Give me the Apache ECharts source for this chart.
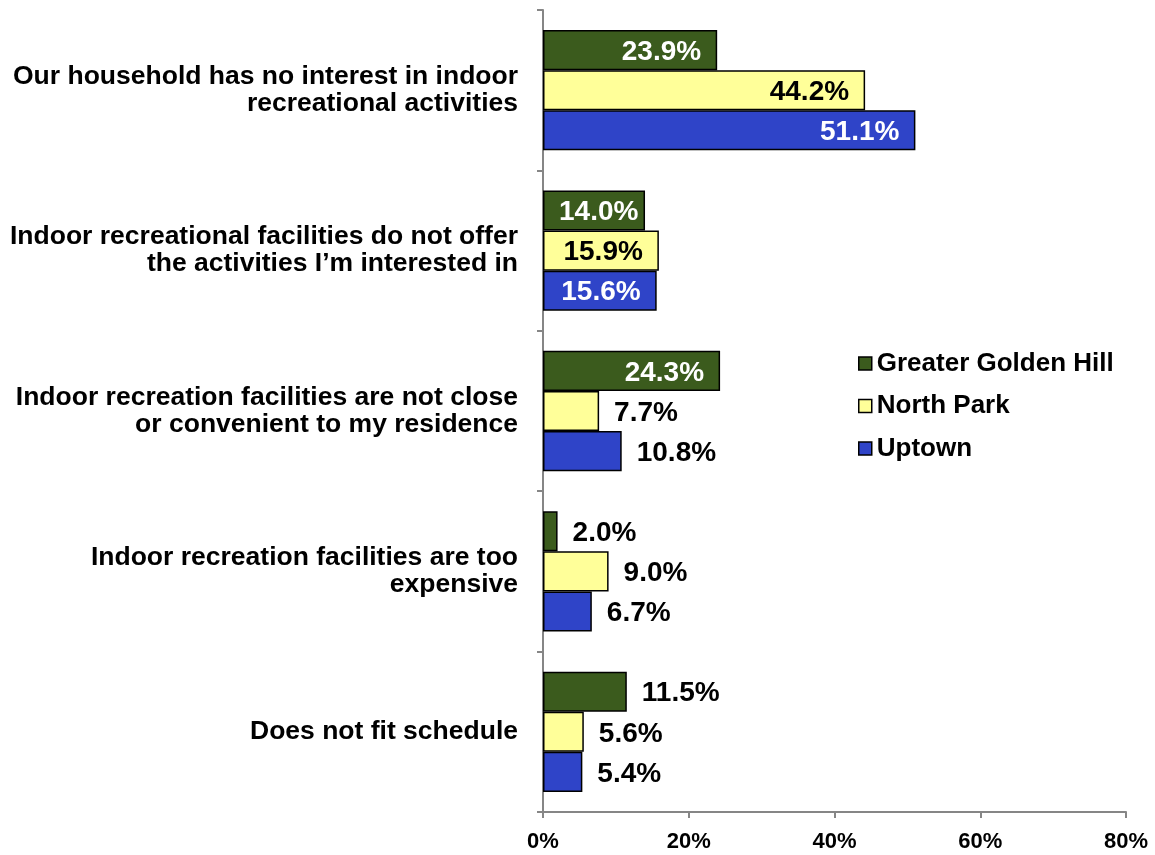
<!DOCTYPE html>
<html>
<head>
<meta charset="utf-8">
<script src="https://cdn.jsdelivr.net/npm/echarts@6/dist/echarts.min.js"></script>
<style>html,body{margin:0;padding:0;background:#fff}#c{width:1155px;height:855px}</style>
</head>
<body>
<div id="c"></div>
<script>
var categories = [
  "Our household has no interest in indoor\nrecreational activities",
  "Indoor recreational facilities do not offer\nthe activities I\u2019m interested in",
  "Indoor recreation facilities are not close\nor convenient to my residence",
  "Indoor recreation facilities are too\nexpensive",
  "Does not fit schedule"
];
var seriesNames = ["Greater Golden Hill", "North Park", "Uptown"];
var goldenHill = [23.9, 14.0, 24.3, 2.0, 11.5];
var northPark = [44.2, 15.9, 7.7, 9.0, 5.6];
var uptown = [51.1, 15.6, 10.8, 6.7, 5.4];
var xTicks = [0, 20, 40, 60, 80];

var colors = ["#3b5b1d", "#ffff99", "#2f44c8"];
var insideText = ["#ffffff", "#000000", "#ffffff"];
var FONT = "'Liberation Sans', Arial, sans-serif";

function makeData(vals, idx) {
  return vals.map(function (v) {
    var inside = v >= 13;
    var pos = !inside ? "right" : (v < 15 ? "insideLeft" : "insideRight");
    return {
      value: v,
      label: {
        position: pos,
        distance: inside ? 16 : 15,
        color: inside ? insideText[idx] : "#000000"
      }
    };
  });
}

function makeSeries(name, vals, idx) {
  return {
    name: name,
    type: "bar",
    data: makeData(vals, idx),
    barGap: "0%",
    barCategoryGap: "25%",
    itemStyle: { color: colors[idx], borderColor: "#000", borderWidth: 1.5 },
    label: {
      show: true,
      fontFamily: FONT,
      fontWeight: "bold",
      fontSize: 28,
      offset: [0, 2],
      formatter: function (p) { return p.value.toFixed(1) + "%"; }
    },
    emphasis: { disabled: true },
    animation: false
  };
}

var chart = echarts.init(document.getElementById("c"), null, { renderer: "canvas" });
chart.setOption({
  backgroundColor: "#fff",
  animation: false,
  grid: { left: 543, right: 29, top: 10, bottom: 43, containLabel: false },
  legend: {
    orient: "vertical",
    left: 858,
    top: 350,
    padding: 0,
    icon: "rect",
    itemWidth: 13,
    itemHeight: 13,
    itemGap: 15.5,
    selectedMode: false,
    itemStyle: { borderColor: "#000", borderWidth: 1.5 },
    textStyle: { fontFamily: FONT, fontWeight: "bold", fontSize: 26, color: "#000", lineHeight: 27 },
    data: seriesNames
  },
  xAxis: {
    type: "value",
    min: xTicks[0],
    max: xTicks[xTicks.length - 1],
    interval: 20,
    splitLine: { show: false },
    axisLine: { show: true, lineStyle: { color: "#868686", width: 2 } },
    axisTick: { show: true, length: 6, lineStyle: { color: "#868686", width: 2 } },
    axisLabel: {
      fontFamily: FONT, fontWeight: "bold", fontSize: 22, color: "#000", margin: 19,
      formatter: function (v) { return v + "%"; }
    }
  },
  yAxis: {
    type: "category",
    inverse: true,
    data: categories,
    axisLine: { show: true, lineStyle: { color: "#868686", width: 2 } },
    axisTick: { show: true, length: 6, alignWithLabel: false, lineStyle: { color: "#868686", width: 2 } },
    axisLabel: {
      fontFamily: FONT, fontWeight: "bold", fontSize: 26.5, color: "#000",
      lineHeight: 27, margin: 25, align: "right"
    }
  },
  series: [
    makeSeries(seriesNames[0], goldenHill, 0),
    makeSeries(seriesNames[1], northPark, 1),
    makeSeries(seriesNames[2], uptown, 2)
  ]
});
</script>
</body>
</html>
